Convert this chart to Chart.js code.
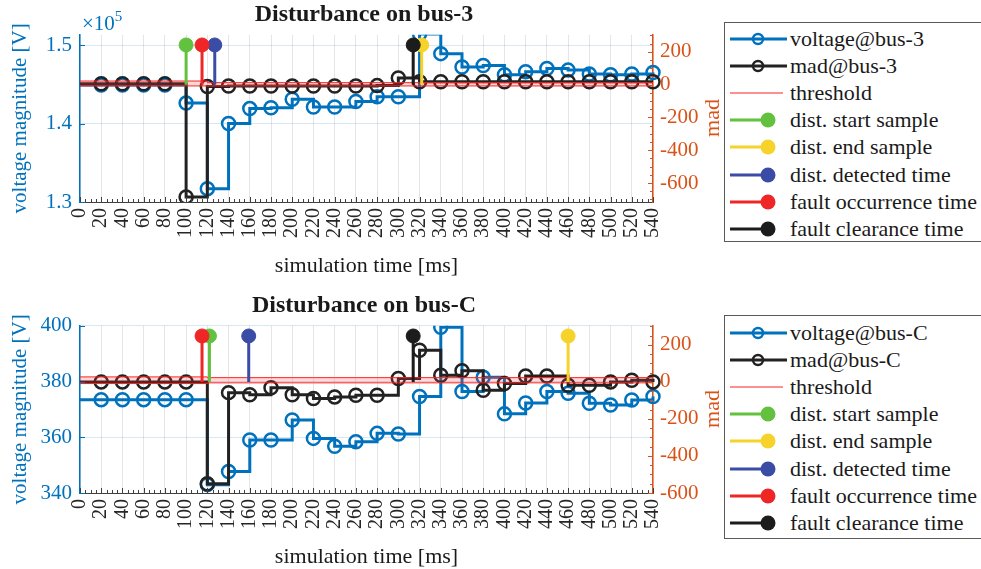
<!DOCTYPE html>
<html>
<head>
  <meta charset="utf-8">
  <title>Disturbance on bus-3 / bus-C</title>
  <script src="https://cdn.jsdelivr.net/npm/chart.js@4.4.1/dist/chart.umd.min.js"></script>
  <style>
    body {
      margin: 0;
      width: 981px;
      height: 569px;
      overflow: hidden;
      background: #fff;
      position: relative;
      font-family: "Liberation Serif", "Times New Roman", serif;
    }
    .chart-box {
      position: absolute;
      left: 0;
      width: 728px;
      height: 284px;
    }
    .legend {
      position: absolute;
      left: 724px;
      width: 290px;
      border: 1px solid #5a5a5a;
      background: #fff;
      box-sizing: border-box;
    }
    .legend .row {
      height: 27.2px;
      display: flex;
      align-items: center;
      font-size: 22px;
      color: #1a1a1a;
      white-space: nowrap;
    }
    .legend svg {
      flex: none;
      margin-left: 5px;
    }
    .exp {
      position: absolute;
      left: 82px;
      color: #0072BD;
      font-size: 21px;
      line-height: 1;
    }
    .exp sup { font-size: 15px; vertical-align: 9px; }
    .madlabel {
      position: absolute;
      color: #D95319;
      font-size: 22px;
      line-height: 1;
      transform: translate(-50%, -50%) rotate(-90deg);
    }
  </style>
</head>
<body>
  <div class="chart-box" style="top:0"><canvas id="chart-bus3"></canvas></div>
  <div class="chart-box" style="top:291px"><canvas id="chart-busC"></canvas></div>
  <span class="exp" style="top:9px">&times;10<sup>5</sup></span>
  <div class="madlabel" style="left:712px; top:118px">mad</div>
  <div class="madlabel" style="left:712px; top:409px">mad</div>
  <div class="legend" id="legend-bus3" style="top:22px; height:220px; padding-top:2px"></div>
  <div class="legend" id="legend-busC" style="top:315px; height:224px; padding-top:3px"></div>

  <script>
    // sample times [ms]
    var timeMs = [0, 20, 40, 60, 80, 100, 120, 140, 160, 180, 200, 220, 240, 260,
                  280, 300, 320, 340, 360, 380, 400, 420, 440, 460, 480, 500, 520, 540];

    // bus-3
    var voltageBus3 = [144900, 144900, 144900, 144900, 144900, 142600, 131700, 140000, 141900, 142000,
                       143100, 142100, 142100, 142800, 143400, 143400, 151400, 148900, 147200, 147400,
                       146200, 146600, 147000, 146800, 146300, 146200, 146300, 146500];
    var madBus3 = [5, 5, 5, 5, 5, -685, -12, -8, -8, -8, -8, -8, -8, -8,
                   -6, 40, 18, 18, 18, 18, 18, 18, 18, 18, 18, 18, 18, 18];
    var thrUpperBus3 = [22, 22, 22, 22, 22, 22, 12, 12, 12, 12, 12, 12, 12, 12,
                        12, 12, 12, 12, 12, 12, 12, 12, 12, 12, 12, 12, 12, 12];
    var thrLowerBus3 = [-8, -8, -8, -8, -8, -8, -8, -8, -8, -8, -8, -8, -8, -8,
                        -8, -8, -8, -8, -8, -8, -8, -8, -8, -8, -8, -8, -8, -8];
    var voltTicksBus3 = [130000, 140000, 150000];

    // bus-C
    var voltageBusC = [373.5, 373.5, 373.5, 373.5, 373.5, 373.5, 343, 347.7, 359, 359,
                       366.2, 359.6, 356.8, 358.4, 361.4, 361.2, 374.6, 399.5, 376.4, 381.5,
                       368.4, 372.3, 376.4, 375.8, 372.2, 371.6, 373.4, 374.6];
    var madBusC = [0, 0, 0, 0, 0, 0, -550, -58, -69, -32, -69, -90, -81, -72,
                   -72, 18, 171, 36, 60, -45, -9, 32, 32, -18, -18, 0, 9, 0];
    var thrUpperBusC = [27, 27, 27, 27, 27, 27, 23, 23, 23, 23, 23, 23, 23, 23,
                        23, 23, 23, 23, 23, 23, 23, 23, 23, 23, 23, 23, 23, 23];
    var thrLowerBusC = [-9, -9, -9, -9, -9, -9, -5, -5, -5, -5, -5, -5, -5, -5,
                        -5, -5, -5, -5, -5, -5, -5, -5, -5, -5, -5, -5, -5, -5];
    var voltTicksBusC = [340, 360, 380, 400];

    // event stems
    var eventNames = ['dist. start sample', 'dist. end sample', 'dist. detected time',
                      'fault occurrence time', 'fault clearance time'];
    var eventColors = ['#62c13e', '#f6d32a', '#3a4ca6', '#ee2626', '#1c1c1c'];
    var eventTimesBus3 = [100, 322, 127, 115, 314];
    var eventTimesBusC = [122, 460, 159, 115, 314];
    var eventHeightBus3 = 242;
    var eventHeightBusC = 248;

    var madTicks = [-600, -400, -200, 0, 200];

    var FONT = '"Liberation Serif", "Times New Roman", serif';
    var BLUE = '#0072BD';
    var ORANGE = '#D95319';

    function points(values) {
      return timeMs.map(function (t, i) { return {x: t, y: values[i]}; });
    }

    function seriesSet(label, values, color, axis, order) {
      return {
        label: label, legendKind: 'series', data: points(values), yAxisID: axis, order: order,
        borderColor: color, borderWidth: 3, stepped: true,
        pointRadius: function (ctx) { return ctx.dataIndex === 0 ? 0 : 6.5; },
        pointBorderWidth: 2.5, pointBorderColor: color, pointBackgroundColor: 'rgba(0,0,0,0)',
        clip: {left: 0, top: 0, right: 10, bottom: 0}
      };
    }

    // minor/major ticks pointing inward, like the original figure
    var innerTicks = {
      id: 'innerTicks',
      afterDraw: function (chart) {
        var ctx = chart.ctx, a = chart.chartArea, s = chart.scales;
        ctx.save();
        ctx.lineWidth = 1;
        ctx.strokeStyle = '#404040';
        for (var t = 0; t <= 540; t += 5) {
          var x = Math.round(s.x.getPixelForValue(t)) + 0.5;
          ctx.beginPath();
          ctx.moveTo(x, a.bottom);
          ctx.lineTo(x, a.bottom - (t % 20 === 0 ? 5 : 3));
          ctx.stroke();
        }
        ctx.strokeStyle = ORANGE;
        for (var v = Math.ceil(s.y2.min / 50) * 50; v <= s.y2.max; v += 50) {
          var y = Math.round(s.y2.getPixelForValue(v)) + 0.5;
          ctx.beginPath();
          ctx.moveTo(a.right, y);
          ctx.lineTo(a.right - (v % 200 === 0 ? 5 : 3), y);
          ctx.stroke();
        }
        ctx.strokeStyle = BLUE;
        s.y.ticks.forEach(function (tk) {
          var y = Math.round(s.y.getPixelForValue(tk.value)) + 0.5;
          ctx.beginPath();
          ctx.moveTo(a.left, y);
          ctx.lineTo(a.left + 5, y);
          ctx.stroke();
        });
        ctx.restore();
      }
    };

    function createChart(canvasId, c) {
      var datasets = [
        seriesSet('voltage@bus-' + c.bus, c.voltage, BLUE, 'y', 20),
        seriesSet('mad@bus-' + c.bus, c.mad, '#222222', 'y2', 19),
        {
          label: 'threshold', legendKind: 'threshold', data: points(c.thrUpper), yAxisID: 'y2', order: 18,
          borderColor: '#ff2020', borderWidth: 1, stepped: true, pointRadius: 0,
          fill: '+1', backgroundColor: 'rgba(255,60,60,0.2)'
        },
        {
          label: 'threshold (lower)', data: points(c.thrLower), yAxisID: 'y2', order: 17,
          borderColor: '#ff2020', borderWidth: 1, stepped: true, pointRadius: 0, fill: false
        }
      ];
      eventNames.forEach(function (name, k) {
        datasets.push({
          label: name, legendKind: 'stem', yAxisID: 'y2', order: 5 - k,
          data: [{x: c.events[k], y: 0}, {x: c.events[k], y: c.eventHeight}],
          borderColor: eventColors[k], borderWidth: 3,
          pointRadius: [0, 7], pointBorderWidth: 1,
          pointBackgroundColor: eventColors[k], pointBorderColor: eventColors[k]
        });
      });

      var chart = new Chart(document.getElementById(canvasId), {
        type: 'line',
        data: {datasets: datasets},
        plugins: [innerTicks],
        options: {
          responsive: true,
          maintainAspectRatio: false,
          animation: false,
          events: [],
          layout: {padding: 0},
          plugins: {
            legend: {display: false},
            tooltip: {enabled: false},
            title: {
              display: true,
              text: 'Disturbance on bus-' + c.bus,
              color: '#1a1a1a',
              font: {family: FONT, size: 24, weight: 'bold'},
              padding: {top: 0, bottom: 6}
            }
          },
          scales: {
            x: {
              type: 'linear', min: 0, max: 540,
              afterFit: function (s) { s.height = 82; },
              ticks: {
                stepSize: 20, autoSkip: false, minRotation: 90, maxRotation: 90,
                color: '#262626', font: {family: FONT, size: 20}, padding: 6
              },
              grid: {color: 'rgba(0,0,0,0.1)', drawTicks: false},
              border: {color: '#404040', width: 1},
              title: {
                display: true, text: 'simulation time [ms]', color: '#1a1a1a',
                font: {family: FONT, size: 22}, padding: {top: 0, bottom: 5}
              }
            },
            y: {
              position: 'left', min: c.voltMin, max: c.voltMax,
              afterBuildTicks: function (s) { s.ticks = c.voltTicks.map(function (v) { return {value: v}; }); },
              afterFit: function (s) { s.width = 80; },
              ticks: {color: BLUE, font: {family: FONT, size: 21}, padding: 8, callback: c.voltFormat},
              grid: {color: 'rgba(0,114,189,0.16)', drawTicks: false},
              border: {color: BLUE, width: 1.5},
              title: {
                display: true, text: 'voltage magnitude [V]', color: BLUE,
                font: {family: FONT, size: 21}, padding: {top: 8, bottom: 0}
              }
            },
            y2: {
              position: 'right', min: c.madMin, max: c.madMax,
              afterBuildTicks: function (s) { s.ticks = madTicks.map(function (v) { return {value: v}; }); },
              afterFit: function (s) { s.width = 75; },
              ticks: {color: ORANGE, font: {family: FONT, size: 21}, padding: 7,
                      callback: function (v) { return String(v); }},
              grid: {drawOnChartArea: false, drawTicks: false},
              border: {color: ORANGE, width: 1.5}
            }
          }
        }
      });
      return chart;
    }

    function buildLegend(elId, chart) {
      var html = '';
      chart.data.datasets.forEach(function (d) {
        if (!d.legendKind) return;
        var c = d.borderColor, icon;
        if (d.legendKind === 'series') {
          icon = '<line x1="0" y1="10" x2="57" y2="10" stroke="' + c + '" stroke-width="3"/>' +
                 '<circle cx="28" cy="10" r="5" fill="none" stroke="' + c + '" stroke-width="2.5"/>';
        } else if (d.legendKind === 'threshold') {
          icon = '<line x1="0" y1="10" x2="53" y2="10" stroke="' + c + '" stroke-width="1"/>';
        } else {
          icon = '<line x1="0" y1="10" x2="38" y2="10" stroke="' + c + '" stroke-width="3"/>' +
                 '<circle cx="38" cy="10" r="7.5" fill="' + c + '"/>';
        }
        html += '<div class="row"><svg width="60" height="20">' + icon + '</svg><span>' + d.label + '</span></div>';
      });
      document.getElementById(elId).innerHTML = html;
    }

    var chartBus3 = createChart('chart-bus3', {
      bus: '3', voltage: voltageBus3, mad: madBus3, thrUpper: thrUpperBus3, thrLower: thrLowerBus3,
      events: eventTimesBus3, eventHeight: eventHeightBus3,
      voltMin: 130000, voltMax: 151300, voltTicks: voltTicksBus3,
      voltFormat: function (v) { return (v / 1e5).toFixed(1); },
      madMin: -716, madMax: 304
    });
    var chartBusC = createChart('chart-busC', {
      bus: 'C', voltage: voltageBusC, mad: madBusC, thrUpper: thrUpperBusC, thrLower: thrLowerBusC,
      events: eventTimesBusC, eventHeight: eventHeightBusC,
      voltMin: 340, voltMax: 400, voltTicks: voltTicksBusC,
      voltFormat: function (v) { return String(v); },
      madMin: -600, madMax: 303
    });

    buildLegend('legend-bus3', chartBus3);
    buildLegend('legend-busC', chartBusC);
  </script>
</body>
</html>
